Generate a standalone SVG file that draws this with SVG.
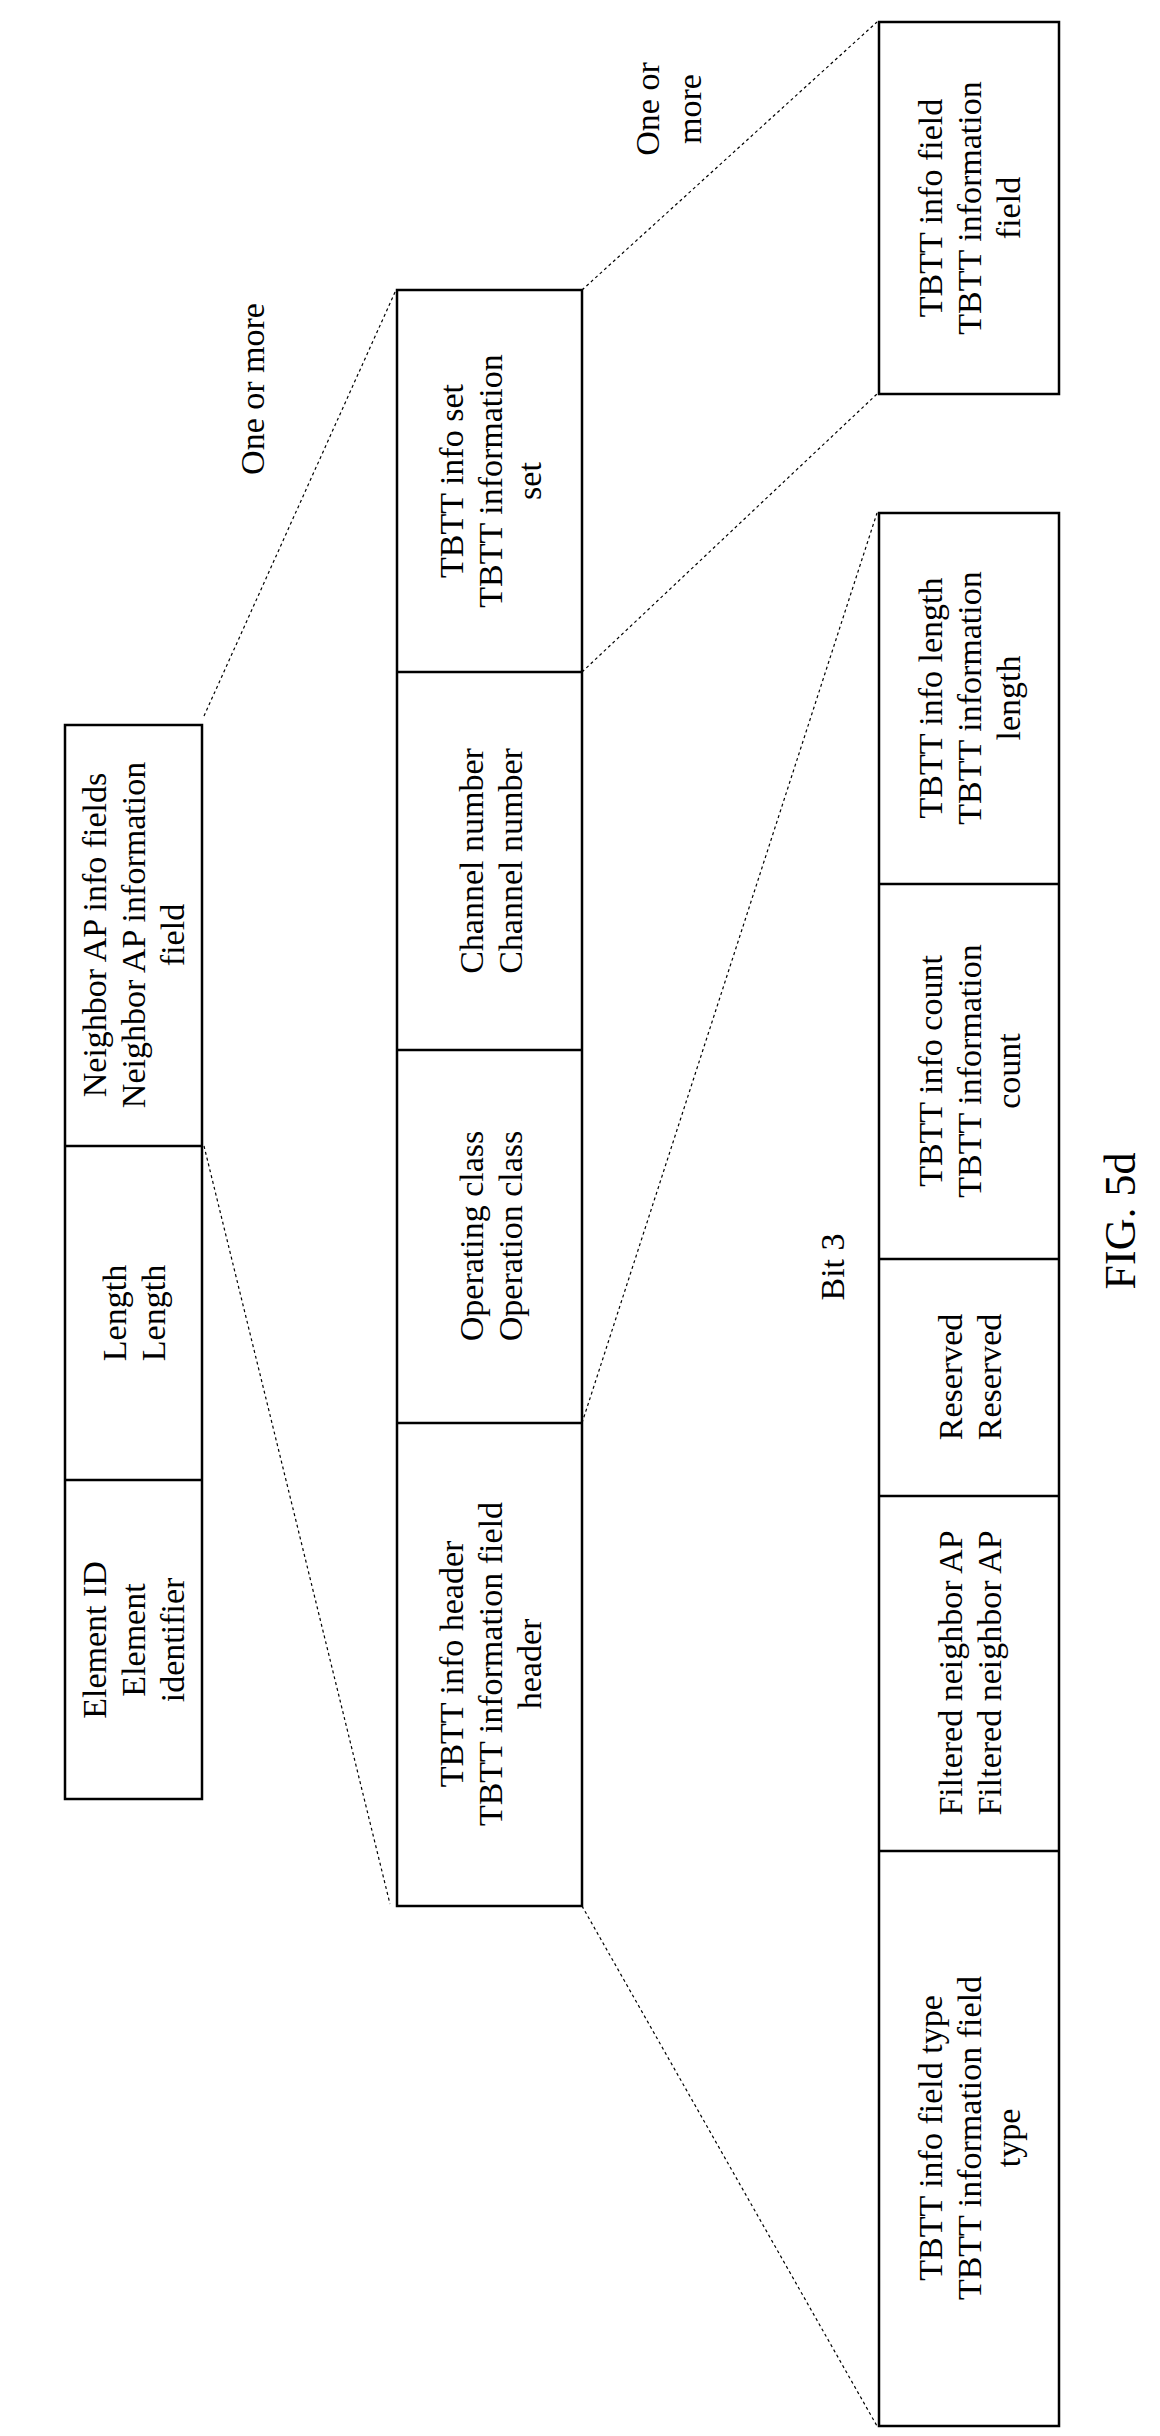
<svg xmlns="http://www.w3.org/2000/svg" width="1160" height="2436" viewBox="0 0 1160 2436">
<style>
.b{fill:#fff;stroke:#000;stroke-width:2.5}
.d{stroke:#000;stroke-width:1.2;stroke-dasharray:3 3;fill:none}
text{font-family:"Liberation Serif",serif;font-size:34px;text-anchor:middle;dominant-baseline:central;fill:#000}
</style>
<rect width="1160" height="2436" fill="#fff"/>
<g id="connectors">
<line class="d" x1="204" y1="716" x2="396" y2="290"/>
<line class="d" x1="204" y1="1146" x2="390" y2="1904"/>
<line class="d" x1="582" y1="290" x2="877" y2="22"/>
<line class="d" x1="582" y1="672" x2="877" y2="394"/>
<line class="d" x1="582" y1="1423" x2="877" y2="513"/>
<line class="d" x1="582" y1="1906" x2="877" y2="2426"/>
</g>
<g id="col1">
<rect class="b" x="65" y="725" width="137" height="1074"/>
<line class="b" x1="65" y1="1146" x2="202" y2="1146"/>
<line class="b" x1="65" y1="1480" x2="202" y2="1480"/>
<g id="neighbor" transform="translate(133,935) rotate(-90)"><text y="-39">Neighbor AP info fields</text><text y="0">Neighbor AP information</text><text y="39">field</text></g>
<g id="length" transform="translate(133,1313) rotate(-90)"><text y="-19">Length</text><text y="20">Length</text></g>
<g id="element" transform="translate(133,1640) rotate(-90)"><text y="-39">Element ID</text><text y="0">Element</text><text y="39">identifier</text></g>
</g>
<g id="col2">
<rect class="b" x="397" y="290" width="185" height="1616"/>
<line class="b" x1="397" y1="672" x2="582" y2="672"/>
<line class="b" x1="397" y1="1050" x2="582" y2="1050"/>
<line class="b" x1="397" y1="1423" x2="582" y2="1423"/>
<g id="infoset" transform="translate(490,481) rotate(-90)"><text y="-39">TBTT info set</text><text y="0">TBTT information</text><text y="39">set</text></g>
<g id="channel" transform="translate(490,861) rotate(-90)"><text y="-19">Channel number</text><text y="20">Channel number</text></g>
<g id="operating" transform="translate(490,1236) rotate(-90)"><text y="-19">Operating class</text><text y="20">Operation class</text></g>
<g id="header" transform="translate(490,1664) rotate(-90)"><text y="-39">TBTT info header</text><text y="0">TBTT information field</text><text y="39">header</text></g>
</g>
<g id="infofield">
<rect class="b" x="879" y="22" width="180" height="372"/>
<g transform="translate(969,208) rotate(-90)"><text y="-39">TBTT info field</text><text y="0">TBTT information</text><text y="39">field</text></g>
</g>
<g id="col3">
<rect class="b" x="879" y="513" width="180" height="1913"/>
<line class="b" x1="879" y1="884" x2="1059" y2="884"/>
<line class="b" x1="879" y1="1259" x2="1059" y2="1259"/>
<line class="b" x1="879" y1="1496" x2="1059" y2="1496"/>
<line class="b" x1="879" y1="1851" x2="1059" y2="1851"/>
<g id="infolength" transform="translate(969,698) rotate(-90)"><text y="-39">TBTT info length</text><text y="0">TBTT information</text><text y="39">length</text></g>
<g id="infocount" transform="translate(969,1071) rotate(-90)"><text y="-39">TBTT info count</text><text y="0">TBTT information</text><text y="39">count</text></g>
<g id="reserved" transform="translate(969,1377) rotate(-90)"><text y="-19">Reserved</text><text y="20">Reserved</text></g>
<g id="filtered" transform="translate(969,1673) rotate(-90)"><text y="-19">Filtered neighbor AP</text><text y="20">Filtered neighbor AP</text></g>
<g id="fieldtype" transform="translate(969,2138) rotate(-90)"><text y="-39">TBTT info field type</text><text y="0">TBTT information field</text><text y="39">type</text></g>
</g>
<g id="labels">
<text transform="translate(252,389) rotate(-90)">One or more</text>
<g transform="translate(668,109) rotate(-90)"><text y="-21">One or</text><text y="21">more</text></g>
<text transform="translate(832,1267) rotate(-90)">Bit 3</text>
<text transform="translate(1120,1221) rotate(-90)" style="font-size:44px">FIG. 5d</text>
</g>
</svg>
